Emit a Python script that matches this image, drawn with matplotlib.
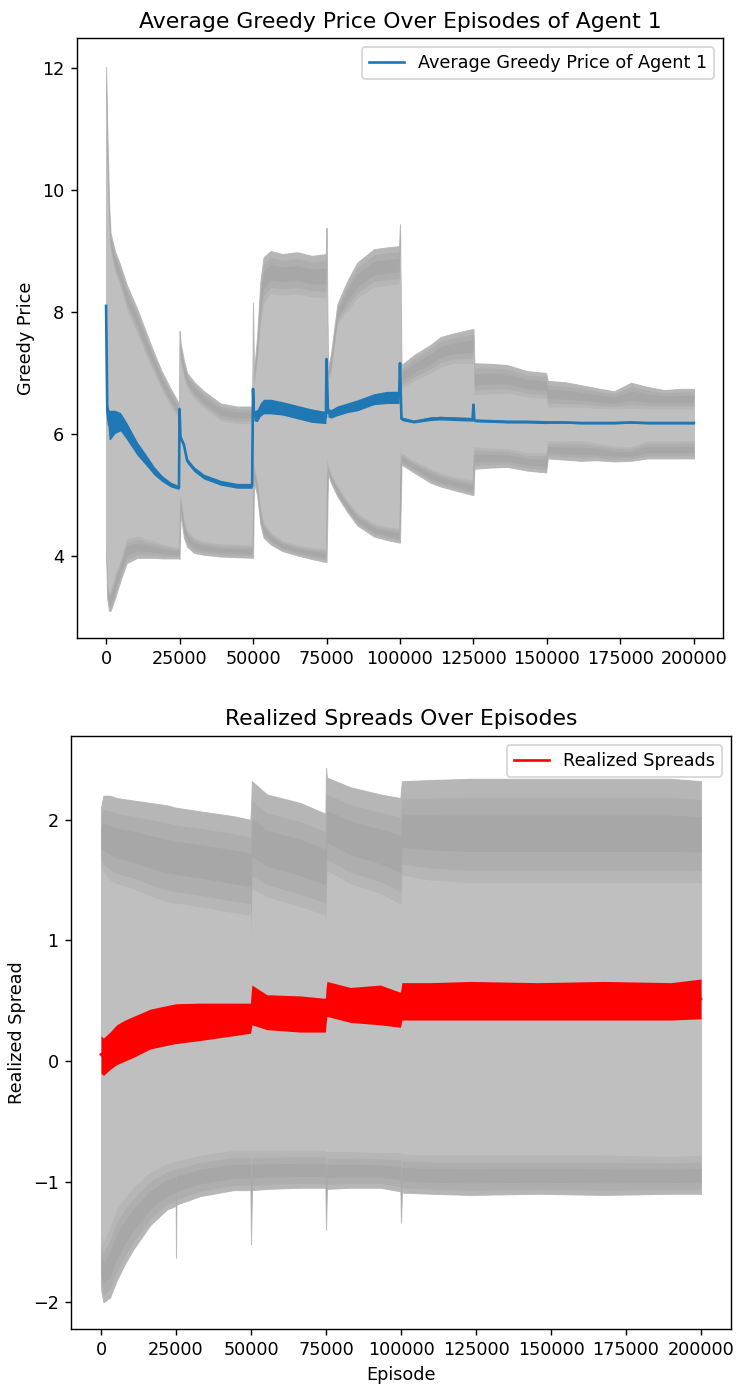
import numpy as np
import matplotlib
matplotlib.use("Agg")
import matplotlib.pyplot as plt

# ---------------- Top chart data (Average Greedy Price of Agent 1) ----------------
top_ep = [0, 400, 1000, 1500, 3000, 4900, 7000, 10600, 13500, 16300, 19000, 22000, 24800,
          25000, 25300, 26500, 27600, 30000, 33300, 39000, 44600, 49700,
          50000, 50300, 51400, 52500, 53600, 56000, 60000, 65000, 70000, 74800,
          75000, 75500, 76500, 78700, 82100, 85500, 91100, 95700, 99700,
          100000, 100500, 104700, 110400, 113800, 118300, 124700,
          125000, 125300, 131000, 136500, 143300, 149700,
          150300, 156000, 161600, 167000, 172900, 178600, 184300, 190000, 195600, 200000]
top_mean = [8.10, 6.40, 6.15, 6.15, 6.20, 6.20, 6.05, 5.76, 5.58, 5.40, 5.27, 5.17, 5.12,
            6.41, 5.95, 5.82, 5.56, 5.42, 5.30, 5.20, 5.15, 5.15,
            6.74, 6.30, 6.30, 6.40, 6.45, 6.45, 6.42, 6.36, 6.30, 6.27,
            7.23, 6.35, 6.33, 6.38, 6.43, 6.47, 6.57, 6.60, 6.60,
            7.16, 6.25, 6.20, 6.25, 6.26, 6.25, 6.24,
            6.48, 6.22, 6.21, 6.20, 6.20, 6.19,
            6.19, 6.19, 6.18, 6.18, 6.18, 6.19, 6.18, 6.18, 6.18, 6.18]
top_noise = [0.02, 0.10, 0.24, 0.24, 0.19, 0.15, 0.14, 0.11, 0.09, 0.07, 0.05, 0.04, 0.03,
             0.02, 0.03, 0.03, 0.04, 0.04, 0.04, 0.04, 0.04, 0.04,
             0.02, 0.08, 0.10, 0.11, 0.12, 0.12, 0.11, 0.11, 0.11, 0.10,
             0.02, 0.07, 0.07, 0.08, 0.08, 0.09, 0.09, 0.10, 0.10,
             0.02, 0.03, 0.02, 0.03, 0.03, 0.03, 0.03,
             0.02, 0.02, 0.02, 0.02, 0.02, 0.02,
             0.015, 0.015, 0.015, 0.015, 0.015, 0.015, 0.015, 0.015, 0.015, 0.015]
top_upper_outer = [12.02, 11.0, 9.8, 9.3, 9.0, 8.76, 8.45, 8.05, 7.68, 7.33, 7.02, 6.74, 6.50,
                   7.69, 7.50, 7.20, 7.00, 6.85, 6.70, 6.50, 6.45, 6.45,
                   8.15, 7.00, 7.60, 8.50, 8.90, 9.00, 8.95, 8.98, 8.92, 8.95,
                   9.38, 7.10, 7.30, 8.13, 8.51, 8.81, 9.03, 9.06, 9.08,
                   9.44, 7.13, 7.29, 7.46, 7.59, 7.65, 7.72,
                   7.72, 7.16, 7.15, 7.13, 7.03, 7.00,
                   6.87, 6.85, 6.80, 6.75, 6.70, 6.84, 6.77, 6.72, 6.74, 6.74]
top_upper_inner = [11.5, 10.3, 9.4, 9.0, 8.65, 8.40, 8.05, 7.65, 7.30, 7.00, 6.72, 6.45, 6.25,
                   7.50, 7.20, 6.90, 6.75, 6.58, 6.42, 6.22, 6.17, 6.17,
                   7.90, 6.80, 7.20, 7.80, 8.15, 8.30, 8.28, 8.30, 8.25, 8.23,
                   9.10, 6.90, 7.00, 7.80, 8.02, 8.23, 8.41, 8.44, 8.46,
                   9.20, 6.74, 6.87, 7.00, 7.10, 7.16, 7.16,
                   7.50, 6.64, 6.66, 6.67, 6.61, 6.58,
                   6.44, 6.44, 6.44, 6.42, 6.41, 6.42, 6.41, 6.41, 6.41, 6.41]
top_lower_inner = [4.20, 3.60, 3.40, 3.45, 3.70, 3.95, 4.28, 4.33, 4.28, 4.25, 4.20, 4.16, 4.14,
                   4.90, 5.00, 4.60, 4.42, 4.30, 4.24, 4.20, 4.19, 4.18,
                   5.40, 5.50, 5.24, 4.78, 4.55, 4.39, 4.25, 4.18, 4.14, 4.12,
                   5.60, 5.50, 5.35, 5.15, 4.90, 4.70, 4.53, 4.48, 4.45,
                   5.70, 5.69, 5.56, 5.43, 5.36, 5.30, 5.24,
                   5.80, 5.79, 5.77, 5.76, 5.69, 5.69,
                   5.89, 5.88, 5.89, 5.85, 5.80, 5.79, 5.89, 5.88, 5.89, 5.89]
top_lower_outer = [4.05, 3.30, 3.10, 3.10, 3.30, 3.60, 3.88, 3.97, 3.97, 3.97, 3.96, 3.96, 3.96,
                   3.95, 4.70, 4.30, 4.15, 4.05, 4.02, 3.99, 3.98, 3.97,
                   3.97, 5.20, 5.00, 4.52, 4.30, 4.19, 4.08, 4.01, 3.95, 3.90,
                   3.90, 5.35, 5.20, 4.98, 4.72, 4.50, 4.32, 4.26, 4.22,
                   4.22, 5.50, 5.37, 5.20, 5.14, 5.08, 5.00,
                   5.00, 5.43, 5.45, 5.46, 5.40, 5.37,
                   5.60, 5.58, 5.56, 5.57, 5.55, 5.56, 5.60, 5.60, 5.60, 5.60]

# ---------------- Bottom chart data (Realized Spreads) ----------------
bot_ep = [0, 800, 3000, 5200, 8000, 10800, 16400, 22000, 24900, 25000, 25100,
          33000, 44200, 49800, 50000, 50300, 55300, 66400, 74800,
          75000, 75300, 83100, 93100, 99800, 100000, 100300,
          110000, 123200, 145400, 167700, 190000, 200000]
bot_mean = [0.055, 0.035, 0.085, 0.135, 0.17, 0.20, 0.265, 0.295, 0.31, 0.31, 0.31,
            0.325, 0.345, 0.355, 0.40, 0.465, 0.405, 0.39, 0.38,
            0.45, 0.515, 0.465, 0.465, 0.425, 0.45, 0.495,
            0.495, 0.50, 0.495, 0.50, 0.495, 0.515]
bot_noise = [0.155, 0.155, 0.155, 0.165, 0.17, 0.17, 0.165, 0.165, 0.165, 0.165, 0.165,
             0.155, 0.135, 0.125, 0.15, 0.165, 0.145, 0.15, 0.14,
             0.15, 0.145, 0.145, 0.165, 0.145, 0.15, 0.155,
             0.155, 0.16, 0.155, 0.16, 0.155, 0.165]
bot_upper_outer = [2.10, 2.20, 2.20, 2.18, 2.17, 2.16, 2.14, 2.12, 2.10, 2.10, 2.10,
                   2.07, 2.03, 2.00, 2.10, 2.32, 2.21, 2.14, 2.05,
                   2.43, 2.35, 2.27, 2.21, 2.18, 2.25, 2.32,
                   2.33, 2.34, 2.34, 2.34, 2.34, 2.32]
bot_upper_inner = [1.61, 1.56, 1.50, 1.47, 1.45, 1.43, 1.37, 1.32, 1.31, 1.30, 1.31,
                   1.28, 1.23, 1.21, 1.05, 1.43, 1.36, 1.28, 1.21,
                   1.16, 1.58, 1.47, 1.39, 1.30, 1.30, 1.54,
                   1.50, 1.48, 1.48, 1.48, 1.48, 1.48]
bot_lower_inner = [-1.45, -1.50, -1.38, -1.23, -1.13, -1.05, -0.92, -0.85, -0.83, -0.83, -0.83,
                   -0.78, -0.74, -0.74, -0.74, -0.74, -0.74, -0.74, -0.74,
                   -0.75, -0.75, -0.75, -0.76, -0.76, -0.77, -0.77,
                   -0.78, -0.78, -0.78, -0.78, -0.79, -0.78]
bot_lower_outer = [-1.89, -2.00, -1.96, -1.82, -1.68, -1.56, -1.36, -1.23, -1.20, -1.63, -1.19,
                   -1.12, -1.07, -1.07, -1.52, -1.07, -1.06, -1.05, -1.05,
                   -1.40, -1.06, -1.05, -1.05, -1.08, -1.34, -1.09,
                   -1.10, -1.11, -1.10, -1.11, -1.10, -1.10]

xticks = [0, 25000, 50000, 75000, 100000, 125000, 150000, 175000, 200000]

LIGHT = '#bfbfbf'
SHADES = ['#b6b6b6', '#aeaeae', '#a7a7a7']


def draw_band(ax, x, inner, outer, fracs=((0.0, 0.0), (0.15, 0.15), (0.32, 0.32))):
    inner = np.asarray(inner, float)
    outer = np.asarray(outer, float)
    w = outer - inner
    for (fi, fo), col in zip(fracs, SHADES):
        ax.fill_between(x, inner + fi * w, outer - fo * w, color=col, lw=0)


DPI = 127
fig = plt.figure(figsize=(736 / DPI, 1385 / DPI), dpi=DPI)

# ---- Top axes ----
ax1 = fig.add_axes([0.1042, 0.5396, 0.8785, 0.4328])
ax1.fill_between(top_ep, top_lower_outer, top_upper_outer, color=LIGHT, lw=0.6, edgecolor=LIGHT)
draw_band(ax1, top_ep, top_upper_inner, top_upper_outer)
draw_band(ax1, top_ep, top_lower_inner, top_lower_outer)
m1 = np.asarray(top_mean)
n1 = np.asarray(top_noise)
ax1.fill_between(top_ep, m1 - n1, m1 + n1, color='#1f77b4', lw=0)
ax1.plot(top_ep, top_mean, color='#1f77b4', lw=1.5, label='Average Greedy Price of Agent 1')
ax1.set_xlim(-10000, 210000)
ax1.set_ylim(2.66, 12.49)
ax1.set_xticks(xticks)
ax1.set_yticks([4, 6, 8, 10, 12])
ax1.set_title('Average Greedy Price Over Episodes of Agent 1', fontsize=12.4)
ax1.set_ylabel('Greedy Price')
ax1.legend(loc='upper right')

# ---- Bottom axes ----
ax2 = fig.add_axes([0.0965, 0.0404, 0.8967, 0.4282])
ax2.fill_between(bot_ep, bot_lower_outer, bot_upper_outer, color=LIGHT, lw=0.6, edgecolor=LIGHT)
draw_band(ax2, bot_ep, bot_upper_inner, bot_upper_outer,
          fracs=((0.0, 0.0), (0.12, 0.18), (0.3, 0.35)))
draw_band(ax2, bot_ep, bot_lower_inner, bot_lower_outer,
          fracs=((0.0, 0.0), (0.18, 0.12), (0.35, 0.3)))
m2 = np.asarray(bot_mean)
n2 = np.asarray(bot_noise)
ax2.fill_between(bot_ep, m2 - n2, m2 + n2, color='red', lw=0)
ax2.plot(bot_ep, bot_mean, color='red', lw=1.5, label='Realized Spreads')
ax2.set_xlim(-10000, 210000)
ax2.set_ylim(-2.222, 2.695)
ax2.set_xticks(xticks)
ax2.set_yticks([-2, -1, 0, 1, 2])
ax2.set_title('Realized Spreads Over Episodes', fontsize=12.4)
ax2.set_xlabel('Episode')
ax2.set_ylabel('Realized Spread')
ax2.legend(loc='upper right')

fig.savefig('out.png', dpi=DPI)
